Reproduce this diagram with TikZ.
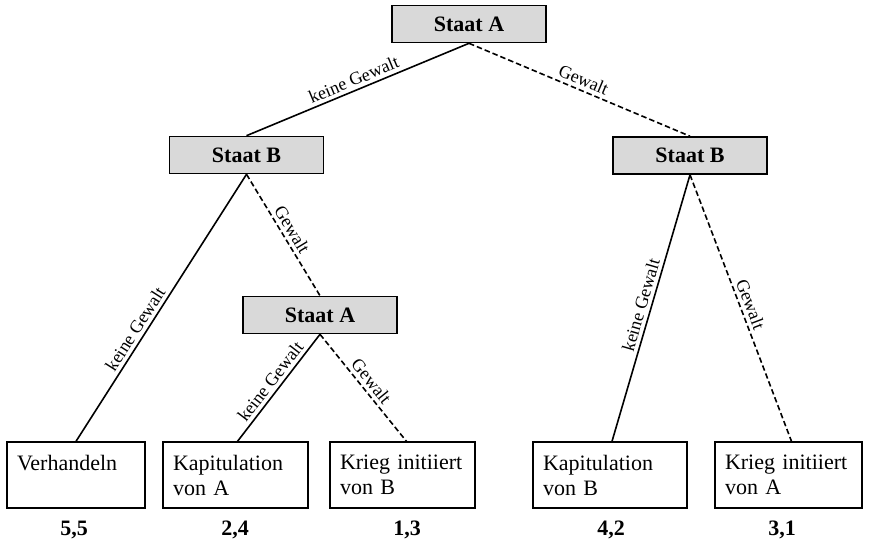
\documentclass[tikz,border=0pt]{standalone}
\usepackage{fontspec}
\setmainfont{Liberation Serif}
\definecolor{boxgray}{HTML}{D9D9D9}
\begin{document}
\begin{tikzpicture}[x=1pt,y=-1pt,
  state/.style={draw, line width=1.6pt, fill=boxgray, minimum width=154pt, minimum height=37pt, inner sep=0pt, font=\fontsize{22}{25}\selectfont\bfseries},
  leaf/.style={draw, line width=1.3pt, minimum height=66pt, inner xsep=10pt, inner ysep=0pt, align=left, font=\fontsize{22}{25}\selectfont},
  pay/.style={anchor=base, inner sep=0pt, font=\fontsize{22}{25}\selectfont\bfseries},
  elab/.style={sloped, above, font=\fontsize{18}{20}\selectfont, inner sep=3.5pt},
  yes/.style={line width=1.6pt},
  no/.style={line width=1.6pt, dash pattern=on 5.5pt off 3pt}]
\useasboundingbox (0,0) rectangle (870,539);

\node[state] (a0) at (469,24) {Staat A};
\node[state] (bl) at (246.5,155) {Staat B};
\node[state] (br) at (690,155.5) {Staat B};
\node[state] (a1) at (320,315) {Staat A};

\node[leaf, text width=118pt] (v)  at (76,475)    {Verhandeln\\\mbox{}};
\node[leaf, text width=125pt] (ka) at (235.5,475) {Kapitulation\\von A};
\node[leaf, text width=125pt] (kb) at (402.5,475) {Krieg initiiert\\von B};
\node[leaf, text width=134pt] (pb) at (610,475)   {Kapitulation\\von B};
\node[leaf, text width=127pt] (pa) at (788.5,475) {Krieg initiiert\\von A};

\node[pay] (p1) at (74,535)  {5,5};
\node[pay] (p2) at (235,535) {2,4};
\node[pay] (p3) at (407,535) {1,3};
\node[pay] (p4) at (611,535) {4,2};
\node[pay] (p5) at (782,535) {3,1};

\draw[yes] (a0.south) -- node[elab] {keine Gewalt} (bl.north);
\draw[no]  (a0.south) -- node[elab] {Gewalt} (br.north);
\draw[yes] (bl.south) -- node[elab, pos=0.6] {keine Gewalt} (v.north);
\draw[no]  (bl.south) -- node[elab] {Gewalt} (a1.north);
\draw[yes] (a1.south) -- node[elab] {keine Gewalt} ([xshift=2pt]ka.north);
\draw[no]  (a1.south) -- node[elab] {Gewalt} ([xshift=4pt]kb.north);
\draw[yes] (br.south) -- node[elab] {keine Gewalt} ([xshift=2pt]pb.north);
\draw[no]  (br.south) -- node[elab] {Gewalt} ([xshift=3pt]pa.north);
\end{tikzpicture}
\end{document}
